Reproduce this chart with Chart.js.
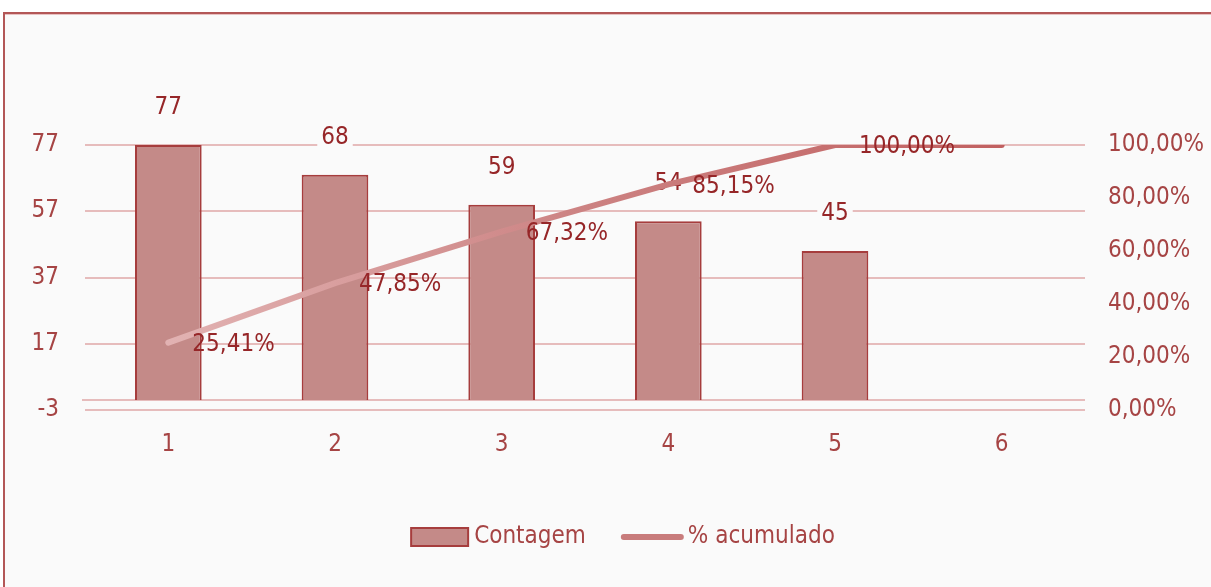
<!DOCTYPE html>
<html>
<head>
<meta charset="utf-8">
<script src="https://cdn.jsdelivr.net/npm/chart.js@4/dist/chart.umd.min.js"></script>
<style>
  html, body { margin: 0; padding: 0; background: #ffffff; overflow: hidden; }
  #frame { position: absolute; left: 3px; top: 12px; width: 1300px; height: 700px;
           border: 2px solid #b35757; box-shadow: inset 0 1px 0 #e8c2c2; background: #fafafa; }
  #c { position: absolute; left: 0; top: 0; }
</style>
</head>
<body>
<div id="frame"></div>
<canvas id="c" width="1211" height="587"></canvas>
<script>
// ---- data ----
const categories = ['1', '2', '3', '4', '5', '6'];
const counts = [77, 68, 59, 54, 45, null];
const cumulativePct = [25.41, 47.85, 67.32, 85.15, 100.00, 100.00];
const leftTicks = [-3, 17, 37, 57, 77];
const rightTicks = [0, 20, 40, 60, 80, 100];
const seriesNames = ['Contagem', '% acumulado'];

const FONT = "'DejaVu Sans Condensed', 'Liberation Sans', sans-serif";
const FS = 24;
const TICK_COLOR = '#a64444';
const LABEL_COLOR = '#962628';
const BAR_FILL = '#c48a88';
const BAR_BORDER = '#a63d3d';
const GRID = '#e6bcbc';

const fmtPct = v => v.toFixed(2).replace('.', ',') + '%';

function lineGradient(ctx) {
  const ch = ctx.chart; const a = ch.chartArea;
  if (!a) return '#cc8484';
  const g = ch.ctx.createLinearGradient(a.left, 0, a.right, 0);
  g.addColorStop(0, '#e6bcbc');
  g.addColorStop(0.5, '#cc8282');
  g.addColorStop(1, '#bf5a5a');
  return g;
}

const labelsPlugin = {
  id: 'customLabels',
  beforeDatasetsDraw(chart) {
    const ctx = chart.ctx;
    const y = chart.scales.y;
    const z = y.getPixelForValue(0);
    ctx.save();
    ctx.strokeStyle = GRID; ctx.lineWidth = 2;
    ctx.beginPath(); ctx.moveTo(chart.chartArea.left - 3, z); ctx.lineTo(chart.chartArea.right, z); ctx.stroke();
    ctx.font = FS + 'px ' + FONT;
    ctx.textAlign = 'center'; ctx.textBaseline = 'middle';
    const meta = chart.getDatasetMeta(1);
    meta.data.forEach((el, i) => {
      const v = counts[i];
      if (v === null || v === undefined) return;
      const txt = String(v);
      const w = ctx.measureText(txt).width;
      const ty = el.y - 37;
      ctx.fillStyle = '#fafafa';
      ctx.fillRect(el.x - w / 2 - 4, ty - 12, w + 8, 24);
      ctx.fillStyle = LABEL_COLOR;
      ctx.fillText(txt, el.x, ty);
    });
    ctx.restore();
  },
  afterDatasetsDraw(chart) {
    const ctx = chart.ctx;
    ctx.save();
    ctx.font = FS + 'px ' + FONT;
    ctx.textAlign = 'left'; ctx.textBaseline = 'middle';
    ctx.fillStyle = LABEL_COLOR;
    const meta = chart.getDatasetMeta(0);
    meta.data.forEach((el, i) => {
      if (counts[i] === null) return;
      ctx.fillText(fmtPct(cumulativePct[i]), el.x + 24, el.y + 2);
    });
    ctx.restore();
  },
  afterDraw(chart) {
    const ctx = chart.ctx;
    ctx.save();
    ctx.font = FS + 'px ' + FONT;
    ctx.textBaseline = 'middle'; ctx.textAlign = 'left';
    const w1 = ctx.measureText(seriesNames[0]).width;
    const w2 = ctx.measureText(seriesNames[1]).width;
    const total = 57 + 6 + w1 + 35 + 63 + 4 + w2;
    let x = 623 - total / 2;
    const cy = 537;
    ctx.fillStyle = BAR_FILL; ctx.strokeStyle = BAR_BORDER; ctx.lineWidth = 2;
    ctx.fillRect(x, cy - 9, 57, 18); ctx.strokeRect(x, cy - 9, 57, 18);
    x += 57 + 6;
    ctx.fillStyle = TICK_COLOR; ctx.fillText(seriesNames[0], x, cy);
    x += w1 + 35;
    ctx.strokeStyle = '#c87c7c'; ctx.lineWidth = 6; ctx.lineCap = 'round';
    ctx.beginPath(); ctx.moveTo(x + 3, cy); ctx.lineTo(x + 60, cy); ctx.stroke();
    x += 63 + 4;
    ctx.fillStyle = TICK_COLOR; ctx.fillText(seriesNames[1], x, cy);
    ctx.restore();
  }
};

new Chart(document.getElementById('c'), {
  data: {
    labels: categories,
    datasets: [
      {
        type: 'line', label: seriesNames[1], data: cumulativePct, yAxisID: 'y1', order: 0,
        borderColor: lineGradient, borderWidth: 6, pointRadius: 0, tension: 0,
        borderCapStyle: 'round', fill: false
      },
      {
        type: 'bar', label: seriesNames[0], data: counts, yAxisID: 'y', order: 1,
        backgroundColor: BAR_FILL, borderColor: BAR_BORDER, borderWidth: 2,
        barPercentage: 0.4, categoryPercentage: 1.0
      }
    ]
  },
  options: {
    responsive: false, animation: false, devicePixelRatio: 1,
    layout: { padding: { top: 145, left: 0, right: 0, bottom: 0 } },
    plugins: { legend: { display: false }, tooltip: { enabled: false } },
    scales: {
      x: {
        type: 'category', offset: true,
        grid: { display: false, drawTicks: false }, border: { display: false },
        ticks: { color: TICK_COLOR, font: { family: FONT, size: FS }, padding: 20 },
        afterFit(s) { s.height = 177; }
      },
      y: {
        position: 'left', min: leftTicks[0], max: leftTicks[leftTicks.length - 1],
        afterBuildTicks(s) { s.ticks = leftTicks.map(v => ({ value: v })); },
        grid: { color: GRID, lineWidth: 2, drawTicks: false }, border: { display: false },
        ticks: { color: TICK_COLOR, font: { family: FONT, size: FS }, padding: 26 },
        afterFit(s) { s.width = 85; }
      },
      y1: {
        position: 'right', min: rightTicks[0], max: rightTicks[rightTicks.length - 1],
        afterBuildTicks(s) { s.ticks = rightTicks.map(v => ({ value: v })); },
        grid: { display: false, drawTicks: false }, border: { display: false },
        ticks: { color: TICK_COLOR, font: { family: FONT, size: FS }, padding: 23, callback: v => fmtPct(v) },
        afterFit(s) { s.width = 126; }
      }
    }
  },
  plugins: [labelsPlugin]
});
</script>
</body>
</html>
